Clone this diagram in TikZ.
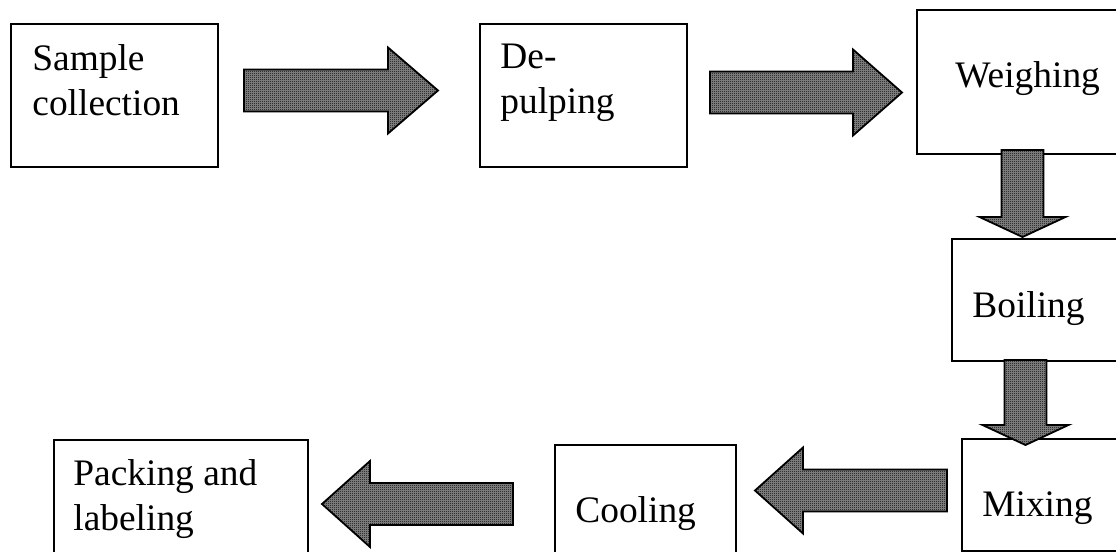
\documentclass[tikz,border=0pt]{standalone}
\usepackage{fontspec}
\setmainfont{Liberation Serif}
\usetikzlibrary{calc,patterns.meta}

\tikzdeclarepattern{
  name=finechecks,
  type=uncolored,
  bottom left={(0pt,0pt)},
  top right={(1pt,1pt)},
  tile size={(1pt,1pt)},
  code={
    \pgfpathrectangle{\pgfpointorigin}{\pgfpoint{0.5pt}{0.5pt}}
    \pgfpathrectangle{\pgfpoint{0.5pt}{0.5pt}}{\pgfpoint{0.5pt}{0.5pt}}
    \pgfusepath{fill}
  }
}

\tikzset{
  stepbox/.style={draw, line width=0.9pt, inner sep=0pt, anchor=north west},
  steptext/.style={inner sep=0pt, anchor=north west, align=left,
    font=\fontsize{18.7}{22.5}\selectfont},
  flow/.style={draw=black, line width=0.9pt, preaction={fill=black!45},
    pattern=finechecks, pattern color=black}
}

% block arrow: from, to, head length
\newcommand{\flowarrow}[3]{%
  \coordinate (fa-h) at ($(#2)!#3!(#1)$);
  \path[flow] ($(#1)!10.5pt!90:(#2)$) -- ($(fa-h)!10.5pt!90:(#2)$)
    -- ($(fa-h)!21.5pt!90:(#2)$) -- (#2) -- ($(fa-h)!21.5pt!-90:(#2)$)
    -- ($(fa-h)!10.5pt!-90:(#2)$) -- ($(#1)!10.5pt!-90:(#2)$) -- cycle;
}

\begin{document}
\begin{tikzpicture}[x=0.5pt, y=-0.5pt]
    \clip (0,0) rectangle (1116,552);

    % boxes
    \node[stepbox, minimum width=207*0.5pt, minimum height=143*0.5pt] (sample) at (10,23) {};
    \node[stepbox, minimum width=207*0.5pt, minimum height=143*0.5pt] (depulp) at (479,23) {};
    \node[stepbox, minimum width=230*0.5pt, minimum height=144*0.5pt] (weigh) at (916,9) {};
    \node[stepbox, minimum width=200*0.5pt, minimum height=122*0.5pt] (boil) at (951,238) {};
    \node[stepbox, minimum width=200*0.5pt, minimum height=112*0.5pt] (mix) at (961,438) {};
    \node[stepbox, minimum width=181*0.5pt, minimum height=150*0.5pt] (cool) at (554,444) {};
    \node[stepbox, minimum width=254*0.5pt, minimum height=150*0.5pt] (pack) at (53,439) {};

    % texts
    \node[steptext] (sampletxt) at (32,44) {Sample\\collection};
    \node[steptext] (depulptxt) at (500,44) {De-\\pulping};
    \node[steptext] (weightxt) at (955,61) {Weighing};
    \node[steptext] (boiltxt) at (972,291) {Boiling};
    \node[steptext] (mixtxt) at (982,491) {Mixing};
    \node[steptext] (cooltxt) at (575,496) {Cooling};
    \node[steptext] (packtxt) at (73,459) {Packing and\\labeling};

    % arrow ends
    \coordinate (a1s) at (244,90.5);  \coordinate (a1e) at (438,90.5);
    \coordinate (a2s) at (710,92.5);  \coordinate (a2e) at (902,92.5);
    \coordinate (d1s) at (1022.5,150); \coordinate (d1e) at (1022.5,237);
    \coordinate (d2s) at (1025.5,360); \coordinate (d2e) at (1025.5,445);
    \coordinate (l1s) at (947,490.5); \coordinate (l1e) at (755,490.5);
    \coordinate (l2s) at (513,504);   \coordinate (l2e) at (322,504);

    \flowarrow{a1s}{a1e}{25pt}
    \flowarrow{a2s}{a2e}{24.5pt}
    \flowarrow{d1s}{d1e}{10pt}
    \flowarrow{d2s}{d2e}{10pt}
    \flowarrow{l1s}{l1e}{24pt}
    \flowarrow{l2s}{l2e}{24pt}

\end{tikzpicture}
\end{document}
